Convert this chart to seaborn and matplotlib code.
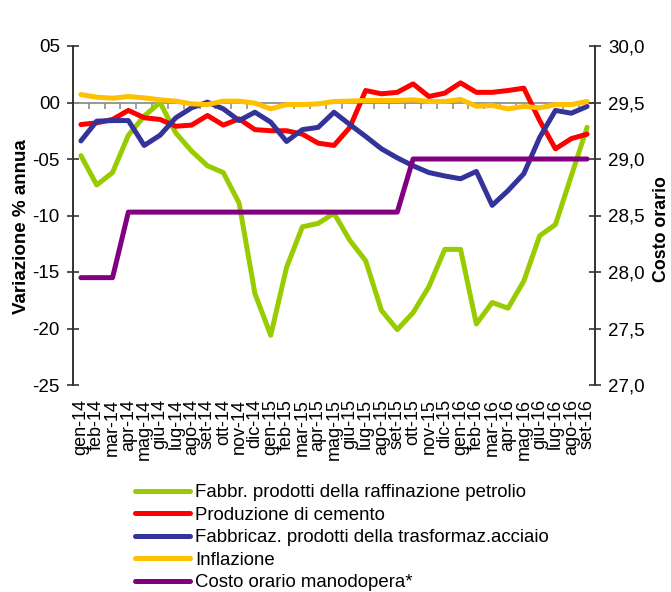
import numpy as np
import pandas as pd
import matplotlib
matplotlib.use("Agg")
import matplotlib.pyplot as plt
import matplotlib.ticker as mticker
from matplotlib.lines import Line2D
import seaborn as sns

# --- dati ---
mesi = ["gen-14", "feb-14", "mar-14", "apr-14", "mag-14", "giu-14", "lug-14", "ago-14",
        "set-14", "ott-14", "nov-14", "dic-14", "gen-15", "feb-15", "mar-15", "apr-15",
        "mag-15", "giu-15", "lug-15", "ago-15", "set-15", "ott-15", "nov-15", "dic-15",
        "gen-16", "feb-16", "mar-16", "apr-16", "mag-16", "giu-16", "lug-16", "ago-16",
        "set-16"]

petrolio = [-4.7, -7.3, -6.2, -2.9, -1.2, 0.0, -2.7, -4.3, -5.6, -6.2, -8.9, -16.9,
            -20.6, -14.6, -11.0, -10.7, -9.8, -12.2, -14.0, -18.4, -20.1, -18.6, -16.3,
            -13.0, -13.0, -19.6, -17.7, -18.2, -15.8, -11.8, -10.8, -6.5, -2.2]

cemento = [-1.95, -1.8, -1.5, -0.7, -1.35, -1.5, -2.1, -2.0, -1.15, -2.0, -1.45, -2.4,
           -2.5, -2.5, -2.8, -3.6, -3.8, -2.2, 1.06, 0.77, 0.9, 1.65, 0.53, 0.83,
           1.74, 0.9, 0.9, 1.06, 1.27, -1.6, -4.1, -3.2, -2.8]

acciaio = [-3.4, -1.65, -1.6, -1.6, -3.8, -2.9, -1.35, -0.47, 0.03, -0.56, -1.6, -0.86,
           -1.74, -3.45, -2.4, -2.2, -0.86, -1.95, -3.0, -4.1, -4.9, -5.6, -6.2, -6.5,
           -6.75, -6.1, -9.1, -7.8, -6.3, -3.1, -0.7, -0.95, -0.35]

inflazione = [0.7, 0.47, 0.38, 0.53, 0.41, 0.24, 0.12, -0.12, -0.18, 0.12, 0.12, -0.06,
              -0.56, -0.18, -0.18, -0.12, 0.09, 0.12, 0.18, 0.18, 0.18, 0.24, 0.09, 0.09,
              0.27, -0.33, -0.27, -0.56, -0.35, -0.47, -0.18, -0.18, 0.09]

costo_orario = [27.95, 27.95, 27.95] + [28.53] * 18 + [29.0] * 12

serie = ["Fabbr. prodotti della raffinazione petrolio",
         "Produzione di cemento",
         "Fabbricaz. prodotti della trasformaz.acciaio",
         "Inflazione"]
serie_costo = "Costo orario manodopera*"
colori = ["#99CC00", "#FF0000", "#333399", "#FFC000"]
colore_costo = "#800080"


def main():
    sns.set_style("white")
    plt.rcParams["font.family"] = ["Liberation Sans", "DejaVu Sans"]
    for k in ("text.color", "axes.labelcolor", "xtick.color", "ytick.color"):
        plt.rcParams[k] = "black"

    pos = np.arange(len(mesi))
    df = pd.DataFrame({"pos": pos, serie[0]: petrolio, serie[1]: cemento,
                       serie[2]: acciaio, serie[3]: inflazione})
    lungo = df.melt(id_vars="pos", value_vars=serie, var_name="serie", value_name="valore")

    fig = plt.figure(figsize=(6.71, 5.92), dpi=100)
    ax = fig.add_axes([73 / 671, 1 - 385 / 592, (595 - 73) / 671, (385 - 46) / 592])

    # linea dello zero con tacche tra le categorie
    ax.axhline(0, color="#909090", lw=1.3, zorder=1)
    ax.vlines(pos[:-1] + 0.5, -0.6, 0, color="#909090", lw=1.2, zorder=1)

    lw = 3.6
    sns.lineplot(data=lungo, x="pos", y="valore", hue="serie", hue_order=serie,
                 palette=colori, linewidth=lw, ax=ax, legend=False, zorder=3,
                 solid_joinstyle="round", solid_capstyle="round")

    ax2 = ax.twinx()
    sns.lineplot(x=pos, y=costo_orario, color=colore_costo, linewidth=lw, ax=ax2,
                 zorder=3, solid_joinstyle="round", solid_capstyle="round")

    ax.set_xlim(-0.5, len(mesi) - 0.5)
    ax.set_ylim(-25, 5)
    ax.set_yticks(np.arange(-25, 6, 5))
    ax.yaxis.set_major_formatter(mticker.FuncFormatter(
        lambda v, p: f"{int(v):02d}" if v >= 0 else f"{int(v):03d}"))
    ax2.set_ylim(27, 30)
    ax2.set_yticks(np.arange(27, 30.01, 0.5))
    ax2.yaxis.set_major_formatter(mticker.FuncFormatter(
        lambda v, p: f"{v:.1f}".replace(".", ",")))

    ax.set_xticks(pos)
    ax.set_xticklabels(mesi, rotation=90, fontsize=13)
    ax.tick_params(axis="x", length=0, pad=10)
    ax.tick_params(axis="y", direction="inout", length=9, width=1.2, color="#333333",
                   labelsize=13.5, pad=5)
    ax2.tick_params(axis="y", direction="inout", length=9, width=1.2, color="#333333",
                    labelsize=13.5, pad=5)

    for a in (ax, ax2):
        a.spines["top"].set_visible(False)
        a.spines["bottom"].set_visible(False)
        a.spines["left"].set_color("#333333")
        a.spines["right"].set_color("#333333")
        a.spines["left"].set_linewidth(1.2)
        a.spines["right"].set_linewidth(1.2)
        a.set_xlabel("")

    ax.set_ylabel("Variazione % annua", fontsize=13.5, fontweight="bold")
    ax.yaxis.set_label_coords(-0.083, 0.468)
    ax2.set_ylabel("Costo orario", fontsize=12.8, fontweight="bold")
    ax2.yaxis.set_label_coords(1.112, 0.46)

    # legenda sotto il grafico
    maniglie = [Line2D([], [], color=c, lw=lw) for c in colori + [colore_costo]]
    fig.legend(maniglie, serie + [serie_costo], loc="upper left",
               bbox_to_anchor=(135 / 671, 1 - 484 / 592), frameon=False,
               fontsize=13.4, handlelength=2.96, handletextpad=0.27, labelspacing=0.3,
               borderpad=0, borderaxespad=0)

    fig.savefig("out.png", dpi=100)


if __name__ == "__main__":
    main()
